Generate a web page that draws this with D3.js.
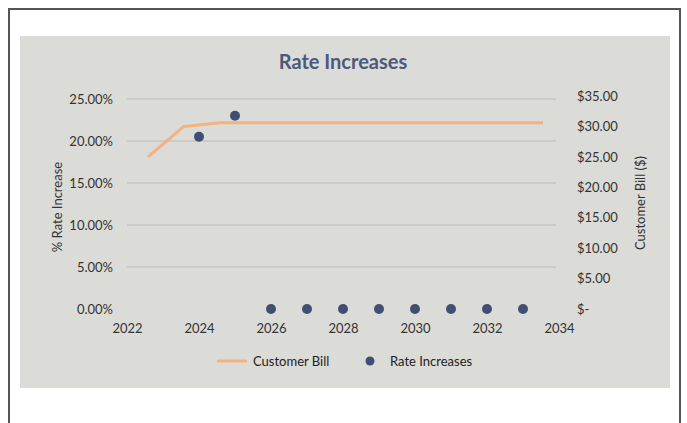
<!DOCTYPE html>
<html lang="en">
<head>
    <meta charset="UTF-8">
    <script src="https://cdnjs.cloudflare.com/ajax/libs/d3/7.9.0/d3.min.js"></script>
    <title>Rate Increases</title>
    <style>
        body { margin: 0; background: white; font-family: Lato, "Open Sans", sans-serif; }
        svg { display: block; }
    </style>
</head>
<body>
    <div id="content"></div>
    <script>
        const width = 687;
        const height = 423;

        // Data
        const rateYears = [2024, 2025, 2026, 2027, 2028, 2029, 2030, 2031, 2032, 2033];
        const rateValues = [0.205, 0.23, 0, 0, 0, 0, 0, 0, 0, 0];
        const billYears = [2022, 2023, 2024, 2025, 2026, 2027, 2028, 2029, 2030, 2031, 2032, 2033];
        const billValues = [25.0, 30.0, 30.6, 30.6, 30.6, 30.6, 30.6, 30.6, 30.6, 30.6, 30.6, 30.6];
        const xTicks = [2022, 2024, 2026, 2028, 2030, 2032, 2034];
        const leftTicks = [0, 0.05, 0.10, 0.15, 0.20, 0.25];
        const rightTicks = [0, 5, 10, 15, 20, 25, 30, 35];

        const plot = { left: 127, right: 559, top: 99, bottom: 309 };
        const textColor = "#333";

        const svg = d3.select("#content").append("svg")
            .attr("width", width)
            .attr("height", height);

        // outer frame
        svg.append("rect")
            .attr("x", 9).attr("y", 9)
            .attr("width", 671).attr("height", 430)
            .attr("fill", "white")
            .attr("stroke", "#555")
            .attr("stroke-width", 2);

        // chart area
        svg.append("rect")
            .attr("x", 20).attr("y", 36)
            .attr("width", 650).attr("height", 352)
            .attr("fill", "#dbdbd7");

        const x = d3.scaleLinear().domain([2022, 2034]).range([plot.left, plot.right]);
        const yLeft = d3.scaleLinear().domain([0, 0.25]).range([plot.bottom, plot.top]);
        const yRight = d3.scaleLinear().domain([0, 35]).range([plot.bottom, plot.top - 3]);
        // line series sits on its own category axis, offset from the value axis
        const xBill = d3.scalePoint().domain(billYears).range([148, 543]);

        // gridlines
        svg.append("g")
            .selectAll("line")
            .data(leftTicks.filter(d => d > 0))
            .enter()
            .append("line")
            .attr("x1", plot.left).attr("x2", 556)
            .attr("y1", d => yLeft(d)).attr("y2", d => yLeft(d))
            .attr("stroke", "#b9b9b6")
            .attr("stroke-width", 1);

        // left axis
        const leftAxis = d3.axisLeft(yLeft)
            .tickValues(leftTicks)
            .tickFormat(d3.format(".2%"))
            .tickSize(0)
            .tickPadding(0);
        svg.append("g")
            .attr("transform", "translate(113,0)")
            .call(leftAxis)
            .call(g => g.select(".domain").remove())
            .selectAll("text")
            .attr("font-family", "Lato, sans-serif")
            .attr("font-size", 13)
            .attr("fill", textColor);

        // right axis
        const rightAxis = d3.axisRight(yRight)
            .tickValues(rightTicks)
            .tickFormat(d => d === 0 ? "$-" : "$" + d3.format(".2f")(d))
            .tickSize(0)
            .tickPadding(0);
        svg.append("g")
            .attr("transform", "translate(577,0)")
            .call(rightAxis)
            .call(g => g.select(".domain").remove())
            .selectAll("text")
            .attr("font-family", "Lato, sans-serif")
            .attr("font-size", 13)
            .attr("fill", textColor);

        // x axis
        const xAxis = d3.axisBottom(x)
            .tickValues(xTicks)
            .tickFormat(d3.format("d"))
            .tickSize(0)
            .tickPadding(0);
        svg.append("g")
            .attr("transform", "translate(0,324)")
            .call(xAxis)
            .call(g => g.select(".domain").remove())
            .selectAll("text")
            .attr("font-family", "Lato, sans-serif")
            .attr("font-size", 13)
            .attr("fill", textColor);

        // customer bill line
        const line = d3.line()
            .x((d, i) => xBill(billYears[i]))
            .y(d => yRight(d));
        svg.append("path")
            .datum(billValues)
            .attr("d", line)
            .attr("fill", "none")
            .attr("stroke", "#f3b27f")
            .attr("stroke-width", 3)
            .attr("stroke-linejoin", "round");

        // rate increase points
        svg.append("g")
            .selectAll("circle")
            .data(rateValues)
            .enter()
            .append("circle")
            .attr("cx", (d, i) => x(rateYears[i]))
            .attr("cy", d => yLeft(d))
            .attr("r", 5)
            .attr("fill", "#3f4e72");

        // title
        svg.append("text")
            .attr("x", 343).attr("y", 69)
            .attr("text-anchor", "middle")
            .attr("font-family", "Lato, sans-serif")
            .attr("font-weight", "bold")
            .attr("font-size", 20)
            .attr("fill", "#4b5a7c")
            .text("Rate Increases");

        // axis titles
        svg.append("text")
            .attr("transform", "translate(62,207) rotate(-90)")
            .attr("text-anchor", "middle")
            .attr("font-family", "Lato, sans-serif")
            .attr("font-size", 13)
            .attr("fill", textColor)
            .text("% Rate Increase");

        svg.append("text")
            .attr("transform", "translate(645,203) rotate(-90)")
            .attr("text-anchor", "middle")
            .attr("font-family", "Lato, sans-serif")
            .attr("font-size", 13)
            .attr("fill", textColor)
            .text("Customer Bill ($)");

        // legend
        const legend = svg.append("g").attr("font-family", "Lato, sans-serif").attr("font-size", 13).attr("fill", "#222");
        legend.append("line")
            .attr("x1", 217).attr("x2", 247)
            .attr("y1", 361).attr("y2", 361)
            .attr("stroke", "#f3b27f").attr("stroke-width", 3);
        legend.append("text").attr("x", 253).attr("y", 365.5).text("Customer Bill");
        legend.append("circle").attr("cx", 370).attr("cy", 361).attr("r", 4.5).attr("fill", "#3f4e72");
        legend.append("text").attr("x", 390).attr("y", 365.5).text("Rate Increases");
    </script>
</body>
</html>
